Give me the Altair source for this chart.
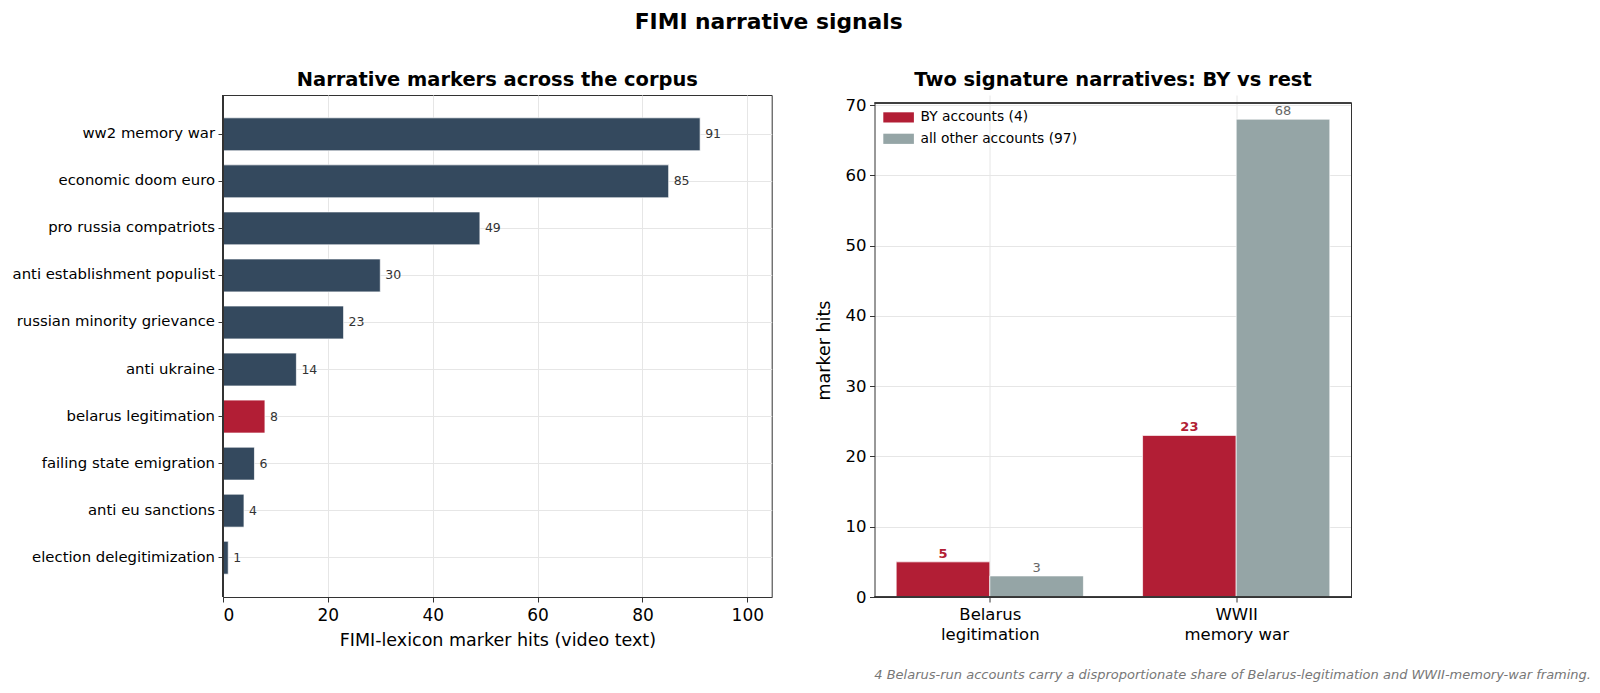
import json

import altair as alt
import pandas as pd

# Narrative marker counts across the whole corpus (top to bottom)
narratives = [
    "ww2 memory war",
    "economic doom euro",
    "pro russia compatriots",
    "anti establishment populist",
    "russian minority grievance",
    "anti ukraine",
    "belarus legitimation",
    "failing state emigration",
    "anti eu sanctions",
    "election delegitimization",
]
marker_hits = [91, 85, 49, 30, 23, 14, 8, 6, 4, 1]
highlighted = "belarus legitimation"

# Two signature narratives split by account group
signature_labels = [["Belarus", "legitimation"], ["WWII", "memory war"]]
account_groups = ["BY accounts (4)", "all other accounts (97)"]
by_hits = [5, 23]
other_hits = [3, 68]

footnote = ("4 Belarus-run accounts carry a disproportionate share of "
            "Belarus-legitimation and WWII-memory-war framing.")

DARK = "#34495e"
RED = "#b21e35"
GREY = "#95a5a6"
GRID = "#e6e6e6"
SPINE = "#333333"
FONT = "DejaVu Sans"
BAR_W = 0.38

LEFT_W, PANEL_H = 548.7, 502
RIGHT_W = 477
RIGHT_DROP = 8          # the right frame starts a little below the left one
Y_MAX_R = 70.3

# ---------------- left panel: horizontal bars ----------------
corpus = pd.DataFrame({"narrative": narratives, "hits": marker_hits})
corpus["is_hl"] = corpus["narrative"] == highlighted

x_left = alt.X(
    "hits:Q",
    scale=alt.Scale(domain=[0, max(marker_hits) * 1.15], nice=False, zero=True),
    axis=alt.Axis(
        values=[0, 20, 40, 60, 80, 100],
        title="FIMI-lexicon marker hits (video text)",
        titleFontSize=17.5,
        titleFontWeight="normal",
        titlePadding=8,
        labelFontSize=17,
        labelPadding=5.5,
    ),
)
y_left = alt.Y(
    "narrative:N",
    sort=narratives,
    title=None,
    scale=alt.Scale(paddingInner=0.3, paddingOuter=0.485),
    axis=alt.Axis(labelFontSize=14.85, labelPadding=3.5, labelLimit=400, bandPosition=0.5),
)

base_left = alt.Chart(corpus)
left_bars = base_left.mark_bar(stroke="white", strokeWidth=0.7).encode(
    x=x_left,
    y=y_left,
    color=alt.condition("datum.is_hl", alt.value(RED), alt.value(DARK)),
)
left_text = base_left.mark_text(
    align="left", baseline="middle", dx=5, fontSize=12.5, color="#333333"
).encode(x=x_left, y=y_left, text="hits:Q")
left_spine = alt.Chart(corpus).mark_rule(color=SPINE, strokeWidth=1).encode(
    x=alt.datum(0)
)

left = alt.layer(left_bars, left_text, left_spine).properties(
    width=LEFT_W,
    height=PANEL_H,
    title=alt.TitleParams(
        "Narrative markers across the corpus",
        fontSize=19.45,
        fontWeight="bold",
        anchor="start",
        align="center",
        frame="group",
        dx=LEFT_W / 2,
        offset=4.5,
        color="black",
    ),
)

# ---------------- right panel: grouped bars ----------------
rows = []
for gi, (b, o) in enumerate(zip(by_hits, other_hits)):
    for series, val, off in ((account_groups[0], b, -BAR_W), (account_groups[1], o, 0.0)):
        rows.append({"group": gi, "series": series, "hits": val,
                     "x0": gi + off, "x1": gi + off + BAR_W})
split = pd.DataFrame(rows)
split["xm"] = (split["x0"] + split["x1"]) / 2

label_expr = " : ".join(
    f"datum.value == {i} ? {json.dumps(lab)}" for i, lab in enumerate(signature_labels)
) + " : ''"

X_MIN_R = -BAR_W - 0.088
X_MAX_R = len(signature_labels) - 1 + BAR_W + 0.088
x_scale_r = alt.Scale(domain=[X_MIN_R, X_MAX_R], nice=False, zero=False)
# the frame of this panel starts RIGHT_DROP px below the top of its view
y_scale_r = alt.Scale(domain=[0, Y_MAX_R], nice=False, range=[PANEL_H, RIGHT_DROP])

x_axis_r = alt.Axis(
    values=list(range(len(signature_labels))),
    labelExpr=label_expr,
    labelFontSize=16.5,
    labelLineHeight=19.5,
    labelPadding=4.5,
    title=footnote,
    titleFontSize=13,
    titleFontStyle="italic",
    titleFontWeight="normal",
    titleColor="#777777",
    titleAlign="right",
    titleBaseline="middle",
    titleX=716,
    titleY=77,
)
y_axis_r = alt.Axis(
    values=[0, 10, 20, 30, 40, 50, 60, 70],
    title="marker hits",
    titleFontSize=17.5,
    titleFontWeight="normal",
    titlePadding=11.7,
    labelFontSize=16.5,
    labelPadding=3.5,
)

base_right = alt.Chart(split)
right_bars = base_right.mark_bar(stroke="white", strokeWidth=0.7).encode(
    x=alt.X("x0:Q", scale=x_scale_r, axis=x_axis_r),
    x2="x1:Q",
    y=alt.Y("hits:Q", scale=y_scale_r, axis=y_axis_r),
    y2=alt.datum(0),
    color=alt.Color(
        "series:N",
        scale=alt.Scale(domain=account_groups, range=[RED, GREY]),
        legend=alt.Legend(
            title=None,
            orient="none",
            # legend coordinates are measured from the left panel's frame corner
            legendX=LEFT_W + 100 + 16.4,
            legendY=11.9,
            padding=0,
            symbolType="M-1.5,-0.5L1.5,-0.5L1.5,0.5L-1.5,0.5Z",
            symbolSize=416,
            symbolStrokeWidth=0,
            symbolOpacity=1,
            labelFontSize=13.8,
            labelOffset=11.4,
            rowPadding=3.4,
        ),
    ),
)
by_text = base_right.transform_filter(
    alt.datum.series == account_groups[0]
).mark_text(baseline="bottom", dy=-1, fontSize=13, fontWeight="bold", color=RED).encode(
    x=alt.X("xm:Q", scale=x_scale_r), y=alt.Y("hits:Q", scale=y_scale_r), text="hits:Q"
)
other_text = base_right.transform_filter(
    alt.datum.series == account_groups[1]
).mark_text(baseline="bottom", dy=-1, fontSize=13, color="#666666").encode(
    x=alt.X("xm:Q", scale=x_scale_r), y=alt.Y("hits:Q", scale=y_scale_r), text="hits:Q"
)
# frame lines: baseline, top edge and right edge of the plotting area
frame_bottom = alt.Chart(split).mark_rule(color=SPINE, strokeWidth=1).encode(
    y=alt.datum(0, scale=y_scale_r)
)
frame_top = alt.Chart(split).mark_rule(color=SPINE, strokeWidth=1).encode(
    y=alt.datum(Y_MAX_R, scale=y_scale_r)
)
frame_right = alt.Chart(split).mark_rule(color=SPINE, strokeWidth=1).encode(
    x=alt.datum(X_MAX_R, scale=x_scale_r),
    y=alt.datum(0, scale=y_scale_r),
    y2=alt.datum(Y_MAX_R),
)

right = alt.layer(
    right_bars, by_text, other_text, frame_bottom, frame_top, frame_right
).properties(
    width=RIGHT_W,
    height=PANEL_H,
    view=alt.ViewBackground(stroke="transparent"),
    title=alt.TitleParams(
        "Two signature narratives: BY vs rest",
        fontSize=19.45,
        fontWeight="bold",
        anchor="start",
        align="center",
        frame="group",
        dx=RIGHT_W / 2,
        offset=4.5,
        color="black",
    ),
)

chart = (
    alt.hconcat(left, right, spacing=41.5)
    .properties(
        title=alt.TitleParams(
            "FIMI narrative signals",
            fontSize=21.8,
            fontWeight="bold",
            anchor="start",
            align="center",
            frame="group",
            dx=545.7,
            offset=35,
            color="black",
        ),
        padding={"left": 11, "top": 12, "right": 5, "bottom": 5},
        background="white",
    )
    .configure(font=FONT)
    .configure_view(stroke=SPINE, strokeWidth=1)
    .configure_axis(
        grid=True,
        gridColor=GRID,
        gridWidth=1,
        domainColor=SPINE,
        domainWidth=1,
        tickColor=SPINE,
        tickSize=5,
        tickWidth=1,
        labelColor="black",
        titleColor="black",
        labelFont=FONT,
        titleFont=FONT,
    )
    .configure_title(font=FONT)
    .configure_legend(labelFont=FONT, labelColor="black")
)

chart.save("out.html", embed_options={"renderer": "svg", "actions": False})
